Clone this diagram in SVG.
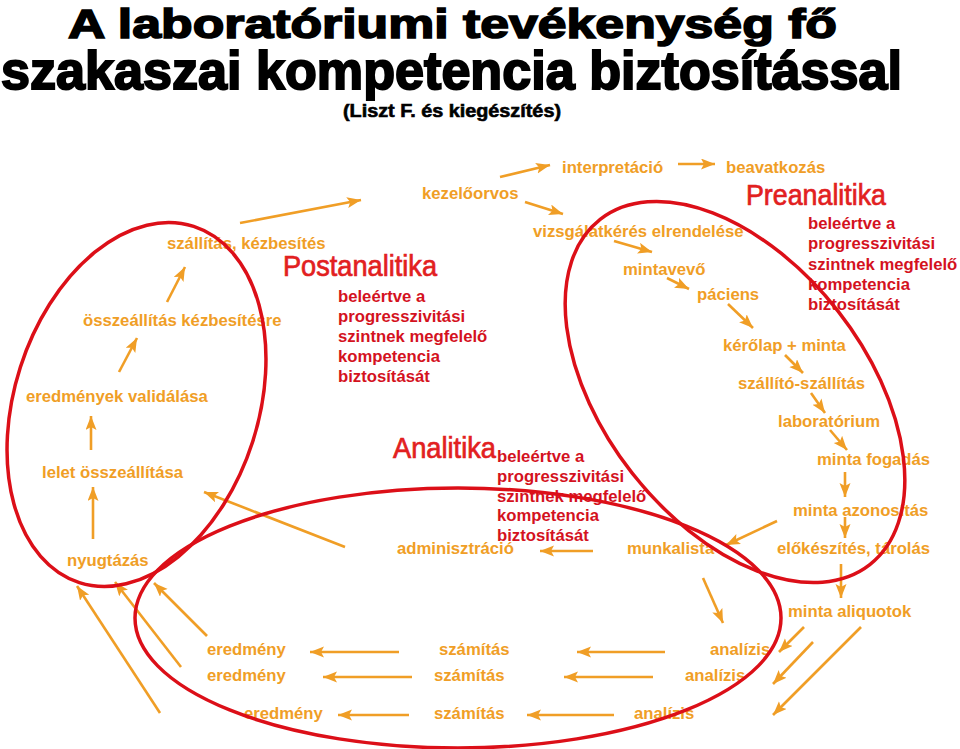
<svg xmlns="http://www.w3.org/2000/svg" width="960" height="749" viewBox="0 0 960 749">
<defs>
<style>
.t{font-family:"Liberation Sans",Arial,sans-serif;font-weight:bold;font-size:16.7px;fill:#F09E26}
.r{font-family:"Liberation Sans",Arial,sans-serif;font-weight:bold;font-size:16.7px;fill:#D4121E}
.h{font-family:"Liberation Sans",Arial,sans-serif;font-size:29px;fill:#E2201F;stroke:#E2201F;stroke-width:0.7}
.ti{font-family:"Liberation Sans",Arial,sans-serif;font-weight:bold;fill:#000;stroke:#000}
.c line{stroke:#F09E26;stroke-width:2.6;marker-end:url(#ah)}
.e{fill:none;stroke:#DC0F18;stroke-width:3.5}
</style>
<marker id="ah" markerUnits="userSpaceOnUse" markerWidth="15" markerHeight="12" refX="14" refY="5.5" orient="auto">
<path d="M0,0 L14,5.5 L0,11 L3,5.5 z" fill="#F09E26"/>
</marker>
</defs>
<rect width="960" height="749" fill="#fff"/>

<g id="title">
<text class="ti" x="68" y="38" font-size="41" stroke-width="1.6" textLength="769" lengthAdjust="spacingAndGlyphs">A laboratóriumi tevékenység fő</text>
<text class="ti" x="1" y="89" font-size="53" stroke-width="2" textLength="901" lengthAdjust="spacingAndGlyphs">szakaszai kompetencia biztosítással</text>
<text class="ti" x="343" y="117" font-size="18" stroke-width="0.6" textLength="218" lengthAdjust="spacingAndGlyphs">(Liszt F. és kiegészítés)</text>
</g>

<g id="n-kezeloorvos"><text class="t" x="422" y="199">kezelőorvos</text></g>
<g id="n-interpretacio"><text class="t" x="562" y="173">interpretáció</text></g>
<g id="n-beavatkozas"><text class="t" x="726" y="173">beavatkozás</text></g>
<g id="n-vizsgalatkeres"><text class="t" x="533" y="237">vizsgálatkérés elrendelése</text></g>
<g id="n-mintavevo"><text class="t" x="623" y="275">mintavevő</text></g>
<g id="n-paciens"><text class="t" x="697" y="300">páciens</text></g>
<g id="n-kerolap"><text class="t" x="723" y="351">kérőlap + minta</text></g>
<g id="n-szallito"><text class="t" x="738" y="389">szállító-szállítás</text></g>
<g id="n-laboratorium"><text class="t" x="778" y="427">laboratórium</text></g>
<g id="n-fogadas"><text class="t" x="817" y="465">minta fogadás</text></g>
<g id="n-azonositas"><text class="t" x="793" y="516">minta azonosítás</text></g>
<g id="n-elokeszites"><text class="t" x="777" y="554">előkészítés, tárolás</text></g>
<g id="n-aliquotok"><text class="t" x="788" y="617">minta aliquotok</text></g>
<g id="n-munkalista"><text class="t" x="627" y="554">munkalista</text></g>
<g id="n-adminisztracio"><text class="t" x="397" y="554">adminisztráció</text></g>
<g id="n-analizis1"><text class="t" x="710" y="655">analízis</text></g>
<g id="n-analizis2"><text class="t" x="685" y="681">analízis</text></g>
<g id="n-analizis3"><text class="t" x="634" y="719">analízis</text></g>
<g id="n-szamitas1"><text class="t" x="439" y="655">számítás</text></g>
<g id="n-szamitas2"><text class="t" x="434" y="681">számítás</text></g>
<g id="n-szamitas3"><text class="t" x="434" y="719">számítás</text></g>
<g id="n-eredmeny1"><text class="t" x="207" y="655">eredmény</text></g>
<g id="n-eredmeny2"><text class="t" x="207" y="681">eredmény</text></g>
<g id="n-eredmeny3"><text class="t" x="244" y="719">eredmény</text></g>
<g id="n-nyugtazas"><text class="t" x="67" y="566">nyugtázás</text></g>
<g id="n-lelet"><text class="t" x="42" y="478">lelet összeállítása</text></g>
<g id="n-validalas"><text class="t" x="26" y="402">eredmények validálása</text></g>
<g id="n-osszeallitas"><text class="t" x="83" y="326">összeállítás kézbesítésre</text></g>
<g id="n-szallitas"><text class="t" x="167" y="249">szállítás, kézbesítés</text></g>

<g id="h-post">
<text class="h" x="283" y="276" textLength="154" lengthAdjust="spacingAndGlyphs">Postanalitika</text>
<text class="r"><tspan x="338" y="302">beleértve a</tspan><tspan x="338" y="322">progresszivitási</tspan><tspan x="338" y="342">szintnek megfelelő</tspan><tspan x="338" y="362">kompetencia</tspan><tspan x="338" y="382">biztosítását</tspan></text>
</g>
<g id="h-anal">
<text class="h" x="393" y="458" textLength="103" lengthAdjust="spacingAndGlyphs">Analitika</text>
<text class="r"><tspan x="497" y="462">beleértve a</tspan><tspan x="497" y="482">progresszivitási</tspan><tspan x="497" y="502">szintnek megfelelő</tspan><tspan x="497" y="521">kompetencia</tspan><tspan x="497" y="541">biztosítását</tspan></text>
</g>
<g id="h-pre">
<text class="h" x="746" y="205" textLength="140" lengthAdjust="spacingAndGlyphs">Preanalitika</text>
<text class="r"><tspan x="808" y="229">beleértve a</tspan><tspan x="808" y="249">progresszivitási</tspan><tspan x="808" y="270">szintnek megfelelő</tspan><tspan x="808" y="290">kompetencia</tspan><tspan x="808" y="310">biztosítását</tspan></text>
</g>

<g id="connectors" class="c">
<line x1="240" y1="223" x2="361" y2="200"/>
<line x1="500" y1="177" x2="550" y2="165"/>
<line x1="678" y1="164" x2="715" y2="164"/>
<line x1="525" y1="202" x2="563" y2="214"/>
<line x1="614" y1="241" x2="652" y2="252"/>
<line x1="667" y1="278" x2="689" y2="289"/>
<line x1="728" y1="304" x2="753" y2="328"/>
<line x1="785" y1="355" x2="803" y2="373"/>
<line x1="811" y1="393" x2="825" y2="413"/>
<line x1="830" y1="430" x2="847" y2="450"/>
<line x1="845" y1="472" x2="845" y2="497"/>
<line x1="845" y1="517" x2="845" y2="538"/>
<line x1="841" y1="564" x2="841" y2="598"/>
<line x1="777" y1="521" x2="726" y2="545"/>
<line x1="593" y1="551" x2="540" y2="551"/>
<line x1="345" y1="547" x2="204" y2="492"/>
<line x1="703" y1="578" x2="723" y2="623"/>
<line x1="804" y1="627" x2="779" y2="652"/>
<line x1="813" y1="642" x2="773" y2="684"/>
<line x1="861" y1="627" x2="773" y2="715"/>
<line x1="665" y1="652" x2="577" y2="652"/>
<line x1="653" y1="677" x2="564" y2="677"/>
<line x1="614" y1="715" x2="527" y2="715"/>
<line x1="399" y1="652" x2="310" y2="652"/>
<line x1="412" y1="677" x2="323" y2="677"/>
<line x1="409" y1="715" x2="338" y2="715"/>
<line x1="207" y1="636" x2="154" y2="583"/>
<line x1="181" y1="667" x2="115" y2="582"/>
<line x1="160" y1="713" x2="77" y2="586"/>
<line x1="167" y1="302" x2="185" y2="267"/>
<line x1="119" y1="372" x2="137" y2="338"/>
<line x1="91" y1="450" x2="91" y2="416"/>
<line x1="93" y1="539" x2="93" y2="487"/>
</g>

<g id="regions">
<ellipse class="e" cx="136.5" cy="404.5" rx="122" ry="187" transform="rotate(17.8 136.5 404.5)"/>
<ellipse class="e" cx="458" cy="618" rx="323" ry="130"/>
<ellipse class="e" cx="735" cy="392" rx="219" ry="131" transform="rotate(52 735 392)"/>
</g>
</svg>
